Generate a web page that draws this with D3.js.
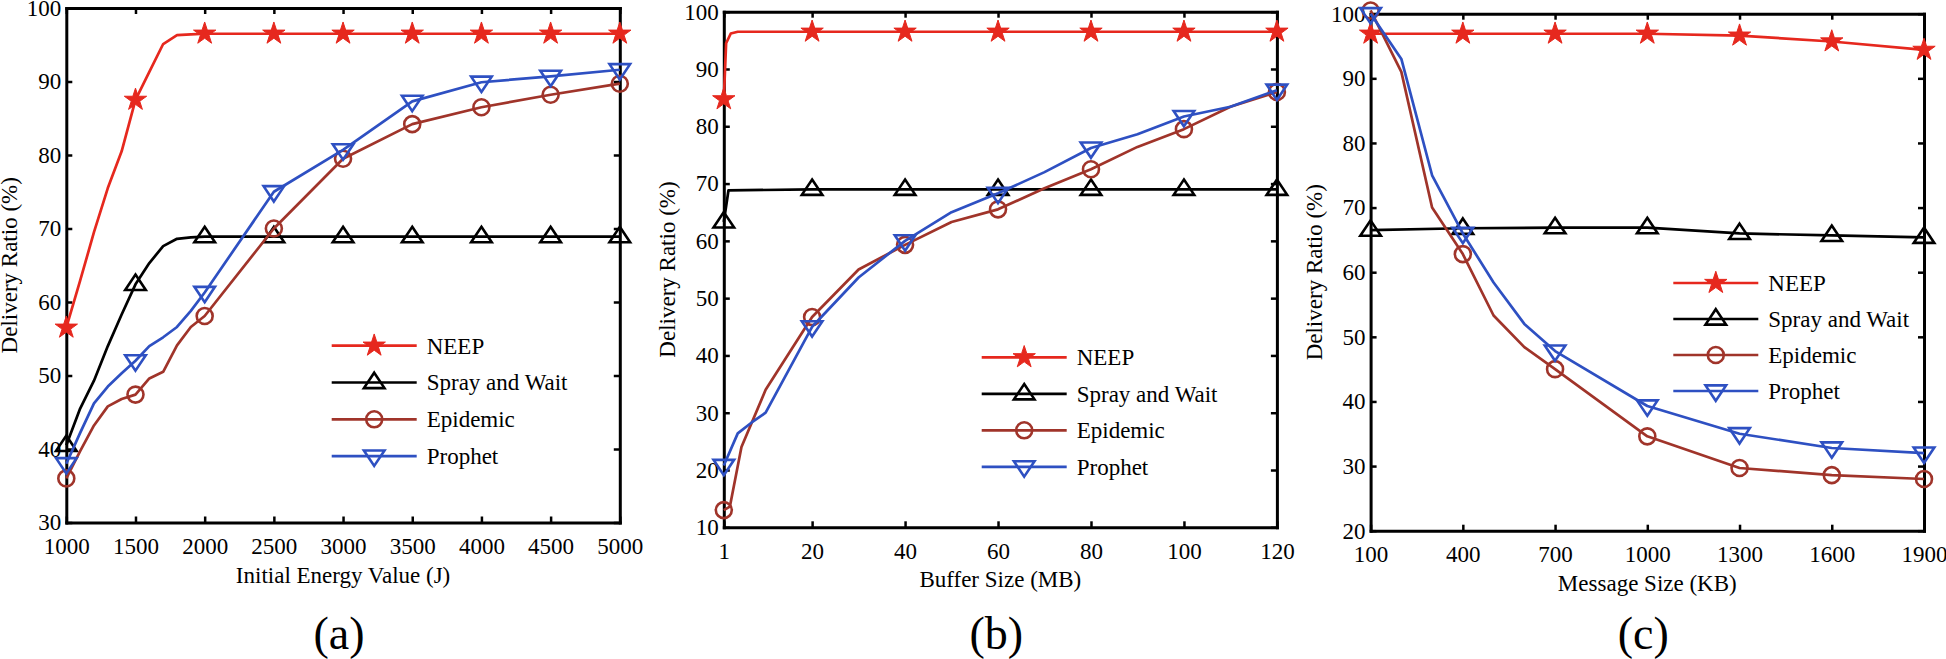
<!DOCTYPE html>
<html><head><meta charset="utf-8">
<script src="https://cdn.jsdelivr.net/npm/d3@7"></script>
<style>
body{margin:0;background:#fff}
svg{display:block}
svg text{font-family:"Times New Roman","Liberation Serif",Tinos,serif !important;}
</style>
</head><body>
<svg id="chart" width="1946" height="659"></svg>
<script>
// ---------- DATA ----------
const seriesNames = ["NEEP", "Spray and Wait", "Epidemic", "Prophet"];
const energyTicks = [1000,1500,2000,2500,3000,3500,4000,4500,5000];
const bufferTicks = [1,20,40,60,80,100,120];
const msgTicks = [100,400,700,1000,1300,1600,1900];
const ratioTicksA = [30,40,50,60,70,80,90,100];
const ratioTicksB = [10,20,30,40,50,60,70,80,90,100];
const ratioTicksC = [20,30,40,50,60,70,80,90,100];
const xLabels = ["Initial Energy Value (J)", "Buffer Size (MB)", "Message Size (KB)"];
const subLabels = ["(a)", "(b)", "(c)"];
const yLabel = "Delivery Ratio (%)";

// panel (a)
const energyX = [1000,1100,1200,1300,1400,1500,1600,1700,1800,1900,2000,2500,3000,3500,4000,4500,5000];
const neepA     = [56.5,62.9,69.5,75.5,80.5,87.5,91.3,95.1,96.3,96.4,96.5,96.5,96.5,96.5,96.5,96.5,96.5];
const sprayA    = [40.5,45.5,49.3,54.0,58.3,62.4,65.3,67.6,68.6,68.8,68.9,68.9,68.9,68.9,68.9,68.9,68.9];
const epidemicA = [36.0,39.7,43.2,45.8,46.8,47.4,49.6,50.5,54.1,56.6,58.1,70.0,79.5,84.2,86.5,88.2,89.7];
const prophetA  = [38.0,42.2,46.2,48.5,50.3,52.0,54.0,55.2,56.6,58.8,61.3,75.0,80.7,87.3,89.9,90.7,91.6];

// panel (b)
const neepBX = [1,1.5,2.5,4,20,40,60,80,100,120];
const neepB  = [84.7,94.5,96.2,96.5,96.5,96.5,96.5,96.5,96.5,96.5];
const sprayBX = [1,2,20,40,60,80,100,120];
const sprayB  = [63.3,68.8,69,69,69,69,69,69];
const epidemicBX = [1,2.3,4.8,10,20,30,40,50,60,70,80,90,100,110,120];
const epidemicB  = [13,13.6,24,34,46.7,55,59.3,63.3,65.5,69.2,72.5,76.4,79.5,83.4,86];
const prophetBX = [1,4,7,10,20,30,40,50,60,70,80,90,100,110,120];
const prophetB  = [20.8,26.4,28.3,30,45,53.6,60,65,68.3,72,76.2,78.6,81.7,83.4,86.3];

// panel (c)
const msgX = [100,400,700,1000,1300,1600,1900];
const neepC  = [96.9,96.9,96.9,96.9,96.6,95.7,94.4];
const sprayC = [66.5,66.8,66.9,66.9,66.0,65.7,65.4];
const msgDenseX = [100,200,300,400,500,600,700,1000,1300,1600,1900];
const epidemicC = [100.5,91,70,62.8,53.3,48.4,45,34.6,29.7,28.6,28];
const prophetC  = [100,93,75,66,58.4,52,47.8,39.3,35,32.8,32];

// ---------- STYLE ----------
const colors = ["#e6281e", "#000000", "#a0342a", "#2e50c2"];
const markerTypes = ["star", "tri", "circle", "itri"];
const FONT = 23;
const FAMILY = '"Times New Roman", "Liberation Serif", Tinos, serif';

const panels = [
  {left:66.3, right:619.8, top:8, bottom:522.5, xd:[1000,5000], yd:[30,100], xt:energyTicks, yt:ratioTicksA,
   series:[[energyX,neepA],[energyX,sprayA],[energyX,epidemicA],[energyX,prophetA]],
   legend:{x:331.7, y:345.7, dy:36.8}},
  {left:723.8, right:1276.9, top:11.7, bottom:527.3, xd:[1,120], yd:[10,100], xt:bufferTicks, yt:ratioTicksB,
   series:[[neepBX,neepB],[sprayBX,sprayB],[epidemicBX,epidemicB],[prophetBX,prophetB]],
   legend:{x:981.7, y:357.3, dy:36.5}},
  {left:1370.6, right:1924, top:13.7, bottom:530.7, xd:[100,1900], yd:[20,100], xt:msgTicks, yt:ratioTicksC,
   series:[[msgX,neepC],[msgX,sprayC],[msgDenseX,epidemicC],[msgDenseX,prophetC]],
   legend:{x:1673.3, y:283, dy:36}}
];

const svg = d3.select("#chart").attr("font-family", FAMILY);

function drawMarker(g, type, color, x, y) {
  if (type === "star") {
    g.append("path").attr("d", d3.symbol(d3.symbolStar, 155)())
      .attr("transform", `translate(${x},${y})`)
      .attr("fill", color).attr("stroke", color).attr("stroke-width", 1);
  } else if (type === "circle") {
    g.append("circle").attr("cx", x).attr("cy", y).attr("r", 8)
      .attr("fill", "none").attr("stroke", color).attr("stroke-width", 2.6);
  } else {
    const s = type === "tri" ? 1 : -1;
    const p = d3.path();
    p.moveTo(x, y - 9.8 * s);
    p.lineTo(x + 10.3, y + 5.6 * s);
    p.lineTo(x - 10.3, y + 5.6 * s);
    p.closePath();
    g.append("path").attr("d", p.toString())
      .attr("fill", "none").attr("stroke", color).attr("stroke-width", 2.6)
      .attr("stroke-linejoin", "miter");
  }
}

panels.forEach((P, pi) => {
  const x = d3.scaleLinear().domain(P.xd).range([P.left, P.right]);
  const y = d3.scaleLinear().domain(P.yd).range([P.bottom, P.top]);
  const g = svg.append("g");

  const styleAxis = a => {
    a.attr("font-family", FAMILY).attr("font-size", FONT);
    a.select(".domain").attr("stroke-width", 3).attr("stroke-linecap", "square");
    a.selectAll(".tick line").attr("stroke-width", 2.5);
    a.selectAll("text").attr("fill", "#000").attr("font-family", FAMILY);
  };
  const fmt = d3.format("d");

  g.append("g").attr("transform", `translate(0,${P.bottom})`)
    .call(d3.axisBottom(x).tickValues(P.xt).tickFormat(fmt).tickSize(-6).tickSizeOuter(0).tickPadding(15))
    .call(styleAxis);
  g.append("g").attr("transform", `translate(0,${P.top})`)
    .call(d3.axisTop(x).tickValues(P.xt).tickSize(-6).tickSizeOuter(0).tickFormat(""))
    .call(styleAxis);
  g.append("g").attr("transform", `translate(${P.left},0)`)
    .call(d3.axisLeft(y).tickValues(P.yt).tickFormat(fmt).tickSize(-6).tickSizeOuter(0).tickPadding(5))
    .call(styleAxis);
  g.append("g").attr("transform", `translate(${P.right},0)`)
    .call(d3.axisRight(y).tickValues(P.yt).tickSize(-6).tickSizeOuter(0).tickFormat(""))
    .call(styleAxis);

  const txt = (sel, size) => sel.attr("font-family", FAMILY).attr("font-size", size).attr("fill", "#000");

  // labels
  g.append("text").attr("x", (P.left + P.right) / 2).attr("y", P.bottom + 60)
    .attr("text-anchor", "middle").call(txt, FONT).text(xLabels[pi]);
  g.append("text").attr("transform", `translate(${P.left - 49},${(P.top + P.bottom) / 2}) rotate(-90)`)
    .attr("text-anchor", "middle").call(txt, FONT).text(yLabel);
  g.append("text").attr("x", (P.left + P.right) / 2 - 4).attr("y", 649)
    .attr("text-anchor", "middle").call(txt, 46).text(subLabels[pi]);

  // series
  const line = d3.line().x(d => x(d[0])).y(d => y(d[1]));
  P.series.forEach((s, si) => {
    const pts = s[0].map((v, i) => [v, s[1][i]]);
    g.append("path").attr("d", line(pts)).attr("fill", "none")
      .attr("stroke", colors[si]).attr("stroke-width", 2.7).attr("stroke-linejoin", "round");
    pts.filter(d => P.xt.includes(d[0])).forEach(d => drawMarker(g, markerTypes[si], colors[si], x(d[0]), y(d[1])));
  });

  // legend
  seriesNames.forEach((name, si) => {
    const ly = P.legend.y + si * P.legend.dy;
    g.append("line").attr("x1", P.legend.x).attr("x2", P.legend.x + 85)
      .attr("y1", ly).attr("y2", ly).attr("stroke", colors[si]).attr("stroke-width", 2.7);
    drawMarker(g, markerTypes[si], colors[si], P.legend.x + 42.5, ly);
    g.append("text").attr("x", P.legend.x + 95).attr("y", ly).attr("dy", "0.34em")
      .call(txt, FONT).text(name);
  });
});
</script>
</body></html>
